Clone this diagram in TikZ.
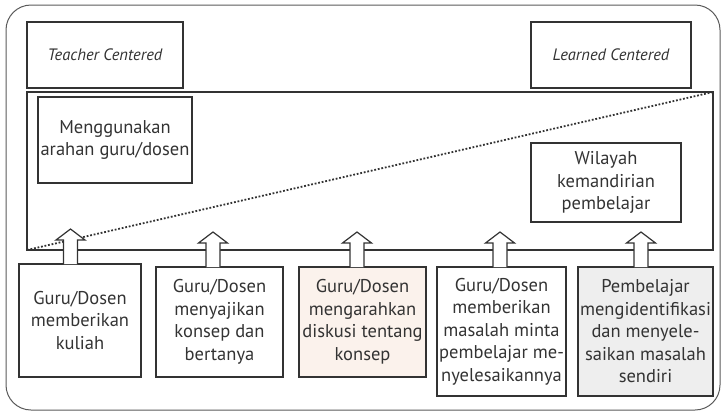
\documentclass[tikz,border=0pt]{standalone}
\usepackage{fontspec}
\setmainfont{PT Sans}
\definecolor{garis}{HTML}{333333}
\definecolor{tepi}{HTML}{5A5A5A}
\definecolor{krem}{HTML}{FBF2EC}
\definecolor{abu}{HTML}{EEEEEE}
\begin{document}
\begin{tikzpicture}[x=1pt, y=-1pt,
	kotak/.style={draw=garis, line width=1.2pt, text=garis, align=center, inner sep=2pt, outer sep=0pt,
		font=\fontsize{18.5}{22.5}\selectfont},
	judul/.style={kotak, font=\fontsize{16.5}{18}\selectfont\itshape},
	panah/.style={draw=garis, fill=white, line width=1.2pt, line join=miter}]
	\useasboundingbox (0,0) rectangle (722,413);
	\draw[tepi, line width=1pt, rounded corners=25pt] (6,5) rectangle (720,410); %bingkai luar
	% kotak atas
	\node[judul, minimum width=156pt, minimum height=66pt] (tc) at (105,55) {Teacher Centered};
	\node[judul, minimum width=160pt, minimum height=66pt] (lc) at (611,55) {Learned Centered};
	\node[kotak, minimum width=686pt, minimum height=158pt] (besar) at (370,171) {};
	\node[kotak, minimum width=154pt, minimum height=86pt] (arah) at (115,140) {Menggunakan\\ arahan guru/dosen};
	\node[kotak, minimum width=150pt, minimum height=79pt] (wil) at (606,182.5) {Wilayah\\ kemandirian\\ pembelajar};
	\draw[garis, line width=1.8pt, dash pattern=on 1.8pt off 1.8pt] (besar.south west) -- (besar.north east);
	% kotak bawah
	\node[kotak, minimum width=122pt, minimum height=113pt] (b1) at (80,320.5) {Guru/Dosen\\ memberikan\\ kuliah};
	\node[kotak, minimum width=127pt, minimum height=110pt] (b2) at (219.5,322) {Guru/Dosen\\ menyajikan\\ konsep dan\\ bertanya};
	\node[kotak, fill=krem, minimum width=127pt, minimum height=110pt] (b3) at (362.5,322) {Guru/Dosen\\ mengarahkan\\ diskusi tentang\\ konsep};
	\node[kotak, minimum width=127pt, minimum height=129pt] (b4) at (501.5,331.5) {Guru/Dosen\\ memberikan\\ masalah minta\\ pembelajar me-\\ nyelesaikannya};
	\node[kotak, fill=abu, minimum width=135pt, minimum height=129pt] (b5) at (645.5,331.5) {Pembelajar\\ mengidentifikasi\\ dan menyele-\\ saikan masalah\\ sendiri};
	% panah blok
	\foreach \b/\x in {b1/70.5,b2/213,b3/357,b4/500,b5/641}
	\draw[panah] (\x,0 |- \b.north) ++(-7,0) -- ++(0,-24) -- ++(-7.5,0) -- ++(14.5,-11) -- ++(14.5,11) -- ++(-7.5,0) -- ++(0,24);
\end{tikzpicture}
\end{document}
